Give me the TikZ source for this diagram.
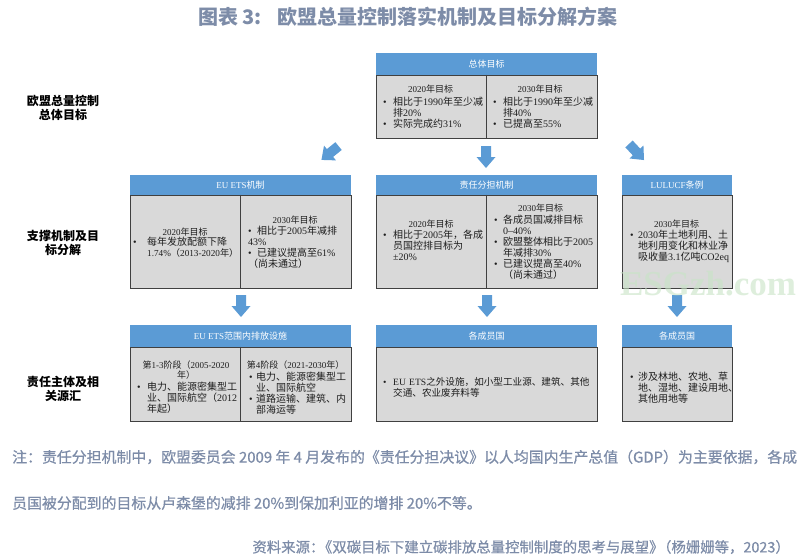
\documentclass[tikz,border=0pt]{standalone}
\usepackage{fontspec}
\setmainfont{Liberation Serif}
\newfontfamily\cjkf{Noto Sans CJK SC}
\newfontfamily\cjkm{Noto Sans CJK SC}[FakeBold=0.6]
\XeTeXinterchartokenstate=1
\newXeTeXintercharclass\CJKcls
\newcount\mycnt
\def\setcjkrange#1#2{\mycnt=#1\relax\loop\XeTeXcharclass\mycnt=\CJKcls\relax\ifnum\mycnt<#2\relax\advance\mycnt by 1\repeat}
\setcjkrange{"4E00}{"9FFF}
\setcjkrange{"3000}{"303F}
\setcjkrange{"FF00}{"FFEF}
\def\latf{\rmfamily}
\XeTeXinterchartoks 0 \CJKcls = {\cjkf}
\XeTeXinterchartoks 4095 \CJKcls = {\cjkf}
\XeTeXinterchartoks \CJKcls 0 = {\latf}
\XeTeXinterchartoks 4095 0 = {\latf}
\definecolor{hdrc}{RGB}{91,155,213}
\definecolor{bodyc}{RGB}{217,217,217}
\definecolor{bordc}{RGB}{64,64,64}
\definecolor{titlec}{RGB}{125,140,168}
\definecolor{txtc}{RGB}{30,30,30}
\definecolor{wmc}{RGB}{200,228,198}
\newcommand\bu[1][10pt]{\makebox[#1][l]{•}}
\newcommand\ind[1][10pt]{\hspace*{#1}}
\newcommand\blockarrow[3]{\fill[hdrc, shift={(#1,#2)}, rotate=#3] (-11,-5) -- (0,-5) -- (0,-9.5) -- (11,0) -- (0,9.5) -- (0,5) -- (-11,5) -- cycle;}
\tikzset{
  hdr/.style={fill=hdrc, text=white, inner sep=0pt, font=\fontsize{9}{10}\selectfont},
  bodybox/.style={fill=bodyc, draw=bordc, line width=0.8pt, inner sep=0pt},
  divline/.style={draw=bordc, line width=0.8pt},
  coltitle/.style={anchor=base, inner sep=0pt, text=txtc, font=\fontsize{9}{10}\selectfont},
  blist/.style={anchor=base west, inner sep=0pt, text=txtc, text width=260pt, align=left, font=\fontsize{10}{11}\selectfont},
  rowlabel/.style={inner sep=0pt, align=center, text=black, font=\cjkf\bfseries\fontsize{12}{14}\selectfont},
  sanstext/.style={inner sep=0pt, text=titlec, font=\cjkm\let\cjkf\cjkm\let\latf\relax\fontsize{#1}{16}\selectfont},
  sanstext/.default=14.9,
}
\begin{document}
\begin{tikzpicture}[x=1pt,y=-1pt]
\fill[white] (0,0) rectangle (802,559);
\useasboundingbox (0,0) rectangle (802,559);

% title
\node[font=\cjkf\bfseries\let\latf\relax\fontsize{20}{22}\selectfont, text=titlec, anchor=west, inner sep=0pt] (title) at (198,17) {图表 3:\hspace{0.8em}欧盟总量控制落实机制及目标分解方案};

% row labels
\node[rowlabel] (r1) at (63,108) {欧盟总量控制\\总体目标};
\node[rowlabel] (r2) at (63,243) {支撑机制及目\\标分解};
\node[rowlabel] (r3) at (63,388.5) {责任主体及相\\关源汇};

% top box
\node[hdr, minimum width=221pt, minimum height=22pt] (h0) at (486.5,64) {总体目标};
\node[bodybox, minimum width=221pt, minimum height=63pt] (b0) at (486.5,106.5) {};
\draw[divline] (b0.north) -- (b0.south);
\node[coltitle] (t0a) at (430.5,92.5) {2020年目标};
\node[blist] (l0a) at (383,105.5) {\bu 相比于1990年至少减\\\ind 排20\%\\\bu 实际完成约31\%};
\node[coltitle] (t0b) at (540,92.5) {2030年目标};
\node[blist] (l0b) at (493,105.5) {\bu 相比于1990年至少减\\\ind 排40\%\\\bu 已提高至55\%};

% arrows row 1
\blockarrow{330}{153}{-141}
\blockarrow{486}{157}{-90}
\blockarrow{636.5}{152}{-47}

% middle left
\node[hdr, minimum width=221pt, minimum height=20pt] (h1) at (240.5,185) {EU ETS机制};
\node[bodybox, minimum width=221pt, minimum height=93pt] (b1) at (240.5,241.5) {};
\draw[divline] (b1.north) -- (b1.south);
\node[coltitle] (t1a) at (185,235.5) {2020年目标};
\node[blist] (l1a) at (133,245.5) {\bu[14pt]每年发放配额下降\\\ind[14pt]{\fontsize{9.2}{11}\selectfont 1.74\%（2013-2020年）}};
\node[coltitle] (t1b) at (295,223.5) {2030年目标};
\node[blist] (l1b) at (248,234.5) {\bu[9pt]相比于2005年减排\\43\%\\\bu[9pt]已建议提高至61\%\\（尚未通过）};

% middle center
\node[hdr, minimum width=221pt, minimum height=20pt] (h2) at (486.5,185) {责任分担机制};
\node[bodybox, minimum width=221pt, minimum height=93pt] (b2) at (486.5,241.5) {};
\draw[divline] (b2.north) -- (b2.south);
\node[coltitle] (t2a) at (431,227.5) {2020年目标};
\node[blist] (l2a) at (383,238.5) {\bu 相比于2005年，各成\\\ind 员国控排目标为\\\ind ±20\%};
\node[coltitle] (t2b) at (540.5,211.5) {2030年目标};
\node[blist] (l2b) at (494,223.5) {\bu[9pt]各成员国减排目标\\\ind[9pt]0–40\%\\\bu[9pt]欧盟整体相比于2005\\\ind[9pt]年减排30\%\\\bu[9pt]已建议提高至40\%\\\ind[9pt]（尚未通过）};

% middle right
\node[hdr, minimum width=110pt, minimum height=20pt] (h3) at (677,185) {LULUCF条例};
\node[bodybox, minimum width=110pt, minimum height=93pt] (b3) at (677,241.5) {};
\node[coltitle] (t3) at (676.5,227.5) {2030年目标};
\node[blist] (l3) at (630,238.5) {\bu[8pt]2030年土地利用、土\\\ind[8pt]地利用变化和林业净\\\ind[8pt]吸收量3.1亿吨CO2eq};

% arrows row 2
\blockarrow{241}{306}{-90}
\blockarrow{487}{306}{-90}
\blockarrow{677}{306}{-90}

% bottom left
\node[hdr, minimum width=221pt, minimum height=22pt] (h4) at (240.5,336) {EU ETS范围内排放设施};
\node[bodybox, minimum width=221pt, minimum height=74pt] (b4) at (240.5,384) {};
\draw[divline] (b4.north) -- (b4.south);
\node[coltitle, text width=108pt, align=center] (t4a) at (186,368.5) {第1-3阶段（2005-2020\\年）};
\node[blist] (l4a) at (137,390) {\bu 电力、能源密集型工\\\ind 业、国际航空（2012\\\ind 年起）};
\node[coltitle] (t4b) at (295.5,368.5) {第4阶段（2021-2030年）};
\node[blist] (l4b) at (249,380.5) {\bu[7pt]电力、能源密集型工\\\ind[7pt]业、国际航空\\\bu[7pt]道路运输、建筑、内\\\ind[7pt]部海运等};

% bottom center
\node[hdr, minimum width=221pt, minimum height=22pt] (h5) at (486.5,336) {各成员国};
\node[bodybox, minimum width=221pt, minimum height=74pt] (b5) at (486.5,384) {};
\node[blist, font=\fontsize{9.6}{11}\selectfont] (l5) at (383,385.5) {\bu EU~ETS之外设施，如小型工业源、建筑、其他\\\ind 交通、农业废弃料等};

% bottom right
\node[hdr, minimum width=110pt, minimum height=22pt] (h6) at (677,336) {各成员国};
\node[bodybox, minimum width=110pt, minimum height=74pt] (b6) at (677,384) {};
\node[blist] (l6) at (630,380.5) {\bu[8pt]涉及林地、农地、草\\\ind[8pt]地、湿地、建设用地、\\\ind[8pt]其他用地等};

% watermark
\node[font=\bfseries\fontsize{35}{35}\selectfont, text=wmc, opacity=0.6, inner sep=0pt] (wm) at (708,284) {ESGzh.com};

% footer
\node[sanstext, anchor=west] (n1) at (12,457) {注：责任分担机制中，欧盟委员会 2009 年 4 月发布的《责任分担决议》以人均国内生产总值（GDP）为主要依据，各成};
\node[sanstext, anchor=west] (n2) at (12,503) {员国被分配到的目标从卢森堡的减排 20\%到保加利亚的增排 20\%不等。};
\node[sanstext=14.4, anchor=east] (n3) at (790,547) {资料来源：\hspace{-0.45em}《双碳目标下建立碳排放总量控制制度的思考与展望》\hspace{-0.45em}（杨姗姗等，2023）};
\end{tikzpicture}
\end{document}
